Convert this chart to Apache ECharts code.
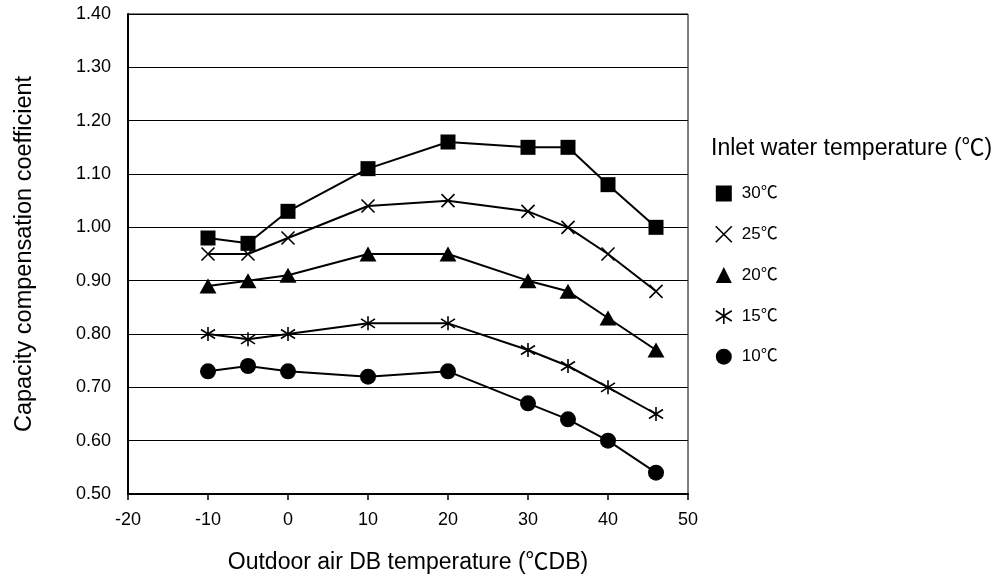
<!DOCTYPE html>
<html>
<head>
<meta charset="utf-8">
<script src="https://cdn.jsdelivr.net/npm/echarts@6/dist/echarts.min.js"></script>
<style>
html,body{margin:0;padding:0;background:#fff;}
#chart{width:1005px;height:574px;}
</style>
</head>
<body>
<div id="chart"></div>
<script>
const xValues = [-10, -5, 0, 10, 20, 30, 35, 40, 46];
const seriesNames = ['30℃', '25℃', '20℃', '15℃', '10℃'];
const s30 = [0.98, 0.97, 1.03, 1.11, 1.16, 1.15, 1.15, 1.08, 1.00];
const s25 = [0.95, 0.95, 0.98, 1.04, 1.05, 1.03, 1.00, 0.95, 0.88];
const s20 = [0.89, 0.90, 0.91, 0.95, 0.95, 0.90, 0.88, 0.83, 0.77];
const s15 = [0.80, 0.79, 0.80, 0.82, 0.82, 0.77, 0.74, 0.70, 0.65];
const s10 = [0.73, 0.74, 0.73, 0.72, 0.73, 0.67, 0.64, 0.60, 0.54];
const xTitle = 'Outdoor air DB temperature (℃DB)';
const yTitle = 'Capacity compensation coefficient';
const legendTitle = 'Inlet water temperature (℃)';

const FONT = '"Liberation Sans", Arial, "Noto Sans CJK JP", sans-serif';

const CROSS = 'path://M0,0L10,10M10,0L0,10';
const ASTER = 'path://M5,0L5,10M0,1.8L10,8.2M10,1.8L0,8.2';

const symbolDefs = [
  {symbol: 'rect', size: 15, bw: 0},
  {symbol: CROSS, size: 13, bw: 1.6},
  {symbol: 'triangle', size: [17, 15], bw: 0},
  {symbol: ASTER, size: 14, bw: 1.6},
  {symbol: 'circle', size: 16, bw: 0}
];
const allData = [s30, s25, s20, s15, s10];

const series = allData.map((vals, i) => ({
  name: seriesNames[i],
  type: 'line',
  data: xValues.map((x, j) => [x, vals[j]]),
  symbol: symbolDefs[i].symbol,
  symbolSize: symbolDefs[i].size,
  showAllSymbol: true,
  lineStyle: {color: '#000', width: 2},
  itemStyle: {color: '#000', borderColor: '#000', borderWidth: symbolDefs[i].bw},
  emphasis: {disabled: true},
  animation: false,
  z: 3
}));

const chart = echarts.init(document.getElementById('chart'), null, {renderer: 'canvas'});
chart.setOption({
  animation: false,
  backgroundColor: '#fff',
  textStyle: {fontFamily: FONT, color: '#000'},
  title: {
    text: legendTitle,
    left: 711, top: 137,
    padding: 0,
    textStyle: {fontFamily: FONT, fontSize: 23, fontWeight: 'normal', color: '#000'}
  },
  legend: {
    orient: 'vertical',
    left: 715, top: 185,
    padding: 0,
    itemWidth: 16, itemHeight: 16,
    itemGap: 23.5,
    selectedMode: false,
    textStyle: {fontFamily: FONT, fontSize: 17, color: '#000', padding: [0, 0, 0, 5]},
    data: seriesNames.map((n, i) => ({
      name: n,
      icon: symbolDefs[i].symbol,
      itemStyle: {color: '#000', borderColor: '#000', borderWidth: symbolDefs[i].bw}
    }))
  },
  grid: {
    left: 128, right: 317, top: 14, bottom: 80,
    containLabel: false,
    outerBoundsMode: 'none',
    show: true, borderColor: '#000', borderWidth: 1, backgroundColor: 'transparent'
  },
  xAxis: {
    type: 'value',
    min: -20, max: 50, interval: 10,
    name: xTitle,
    nameLocation: 'middle',
    nameGap: 57,
    nameTextStyle: {fontFamily: FONT, fontSize: 23, color: '#000'},
    axisLine: {show: true, onZero: false, lineStyle: {color: '#000', width: 2}},
    axisTick: {show: true, inside: false, length: 6, lineStyle: {color: '#000', width: 1.5}},
    axisLabel: {fontFamily: FONT, fontSize: 18, color: '#000', margin: 17},
    splitLine: {show: false}
  },
  yAxis: {
    type: 'value',
    min: 0.5, max: 1.4, interval: 0.1,
    name: yTitle,
    nameLocation: 'middle',
    nameGap: 92,
    nameTextStyle: {fontFamily: FONT, fontSize: 23.5, color: '#000'},
    axisLine: {show: true, onZero: false, lineStyle: {color: '#000', width: 2}},
    axisTick: {show: false},
    axisLabel: {fontFamily: FONT, fontSize: 18, color: '#000', margin: 17,
      formatter: v => v.toFixed(2)},
    splitLine: {show: true, lineStyle: {color: '#000', width: 1.2}}
  },
  series: series
});
</script>
</body>
</html>
